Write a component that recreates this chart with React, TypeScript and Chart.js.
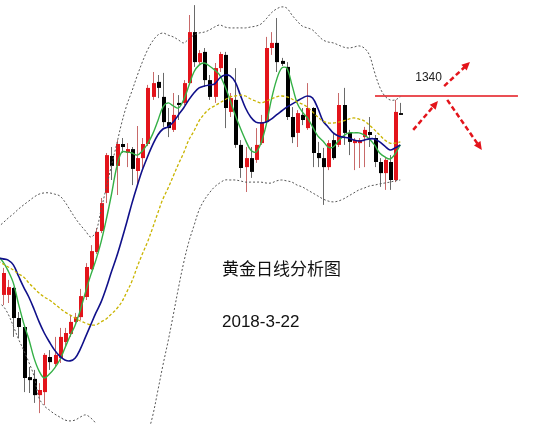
import { useEffect, useRef } from "react";
import { Chart, registerables } from "chart.js";

Chart.register(...registerables);

// Daily gold candles (index 1..78), prices in USD/oz
const opens = [
  1273.7, 1273.7, 1276.0, 1266.0, 1263.0, 1246.3, 1245.7, 1240.3, 1241.3, 1253.0,
  1250.7, 1252.7, 1258.0, 1260.7, 1264.7, 1266.3, 1273.0, 1282.3, 1288.0, 1295.0,
  1307.7, 1320.0, 1316.7, 1324.0, 1321.0, 1322.3, 1315.0, 1319.3, 1324.0, 1339.7,
  1344.7, 1339.7, 1331.3, 1328.7, 1337.7, 1337.7, 1344.3, 1361.3, 1351.3, 1354.7,
  1345.3, 1339.7, 1349.3, 1353.7, 1334.7, 1338.7, 1323.7, 1316.3, 1319.3, 1318.7,
  1324.3, 1331.3, 1356.0, 1357.7, 1351.7, 1349.7, 1333.0, 1327.7, 1333.7, 1329.3,
  1336.0, 1321.0, 1319.3, 1316.3, 1325.3, 1323.7, 1337.0, 1327.7, 1324.3, 1324.3,
  1326.3, 1328.0, 1326.0, 1318.0, 1314.3, 1318.0, 1312.0, 1334.3,
];
const highs = [
  1282.7, 1278.7, 1276.3, 1268.0, 1263.7, 1249.7, 1248.7, 1244.3, 1254.3, 1255.3,
  1259.7, 1262.7, 1262.7, 1267.0, 1267.7, 1275.7, 1284.3, 1290.3, 1296.0, 1306.0,
  1321.0, 1323.0, 1325.3, 1326.0, 1324.3, 1323.0, 1330.0, 1326.0, 1343.7, 1348.0,
  1347.0, 1347.7, 1336.0, 1341.0, 1340.3, 1345.3, 1367.0, 1370.3, 1355.3, 1356.0,
  1347.0, 1351.0, 1354.7, 1354.7, 1341.0, 1349.3, 1325.3, 1323.0, 1323.0, 1329.3,
  1333.7, 1359.7, 1361.3, 1366.0, 1352.7, 1351.3, 1336.3, 1335.3, 1336.0, 1344.3,
  1336.3, 1324.7, 1322.7, 1325.3, 1327.7, 1341.0, 1342.7, 1328.7, 1326.0, 1326.0,
  1329.7, 1333.0, 1327.0, 1319.3, 1319.7, 1320.3, 1338.7, 1337.7,
];
const lows = [
  1270.3, 1271.0, 1259.7, 1259.3, 1241.3, 1241.0, 1237.7, 1234.3, 1237.0, 1248.7,
  1249.7, 1251.0, 1256.3, 1259.7, 1263.7, 1265.3, 1272.0, 1282.0, 1287.3, 1294.3,
  1304.3, 1312.0, 1307.0, 1321.0, 1316.3, 1310.3, 1310.3, 1316.0, 1323.3, 1338.7,
  1339.3, 1329.7, 1326.3, 1328.0, 1332.0, 1337.0, 1343.7, 1349.7, 1350.3, 1343.0,
  1338.7, 1337.7, 1348.0, 1329.3, 1333.0, 1322.7, 1312.7, 1308.0, 1312.7, 1317.7,
  1323.7, 1331.0, 1353.7, 1348.0, 1350.0, 1332.0, 1324.3, 1323.0, 1330.3, 1328.7,
  1316.3, 1316.3, 1303.7, 1315.3, 1318.7, 1323.0, 1323.7, 1320.3, 1315.3, 1316.0,
  1316.3, 1323.0, 1316.3, 1309.7, 1308.7, 1308.7, 1311.3, 1333.7,
];
const closes = [
  1281.0, 1276.3, 1266.0, 1263.0, 1246.0, 1245.3, 1240.3, 1242.0, 1253.7, 1251.3,
  1253.7, 1259.7, 1261.0, 1264.7, 1266.3, 1273.3, 1283.0, 1288.3, 1294.7, 1304.3,
  1320.3, 1316.7, 1324.0, 1323.0, 1322.3, 1315.7, 1319.3, 1324.0, 1342.7, 1344.3,
  1342.7, 1331.3, 1329.3, 1333.7, 1337.0, 1344.3, 1361.3, 1351.3, 1354.3, 1345.3,
  1339.7, 1349.3, 1354.0, 1336.0, 1339.3, 1323.7, 1316.0, 1319.3, 1314.7, 1323.7,
  1331.3, 1356.0, 1357.7, 1351.3, 1350.7, 1333.0, 1326.3, 1334.3, 1332.0, 1336.0,
  1321.0, 1319.3, 1316.3, 1324.3, 1319.3, 1337.0, 1327.7, 1324.7, 1325.3, 1325.3,
  1328.7, 1327.0, 1318.0, 1314.3, 1318.7, 1312.0, 1334.7, 1333.7,
];

// Indicator lines (index 0..78)
const ma5 = [
  1286.7, 1284.7, 1281.7, 1277.7, 1270.7, 1264.3, 1259.0, 1252.7, 1248.3, 1246.0,
  1247.3, 1249.3, 1252.0, 1256.0, 1260.0, 1263.7, 1268.7, 1274.7, 1280.3, 1285.3,
  1291.3, 1298.7, 1307.0, 1316.0, 1321.3, 1321.3, 1321.0, 1320.3, 1321.7, 1324.0,
  1327.3, 1331.7, 1336.3, 1337.7, 1336.7, 1336.0, 1338.7, 1343.3, 1348.0, 1350.3,
  1351.0, 1350.0, 1348.7, 1347.0, 1343.3, 1338.7, 1333.7, 1329.3, 1325.3, 1322.0,
  1321.3, 1324.3, 1330.3, 1338.7, 1345.3, 1349.3, 1349.3, 1343.7, 1337.7, 1334.7,
  1332.7, 1329.7, 1326.7, 1325.0, 1323.0, 1323.0, 1325.0, 1326.7, 1327.7, 1327.7,
  1327.7, 1327.0, 1325.7, 1323.7, 1321.0, 1319.7, 1319.0, 1320.7, 1323.7,
];
const ma10 = [
  1286.0, 1285.7, 1285.3, 1283.7, 1280.0, 1276.3, 1273.0, 1269.0, 1264.7, 1261.0,
  1258.0, 1255.3, 1253.3, 1252.0, 1251.7, 1252.7, 1255.7, 1259.7, 1263.7, 1267.7,
  1271.3, 1276.0, 1281.3, 1286.3, 1292.0, 1298.0, 1304.3, 1310.0, 1315.3, 1319.7,
  1323.7, 1327.0, 1329.0, 1329.7, 1331.3, 1333.7, 1336.0, 1338.7, 1341.0, 1342.7,
  1343.3, 1343.7, 1344.0, 1346.0, 1347.0, 1346.7, 1344.7, 1340.3, 1336.0, 1333.0,
  1331.3, 1331.0, 1331.3, 1332.3, 1333.7, 1335.0, 1336.3, 1337.3, 1338.3, 1339.3,
  1340.0, 1339.3, 1336.0, 1331.7, 1329.7, 1327.7, 1326.7, 1326.3, 1326.0, 1325.3,
  1325.0, 1325.3, 1325.7, 1325.7, 1324.7, 1323.3, 1322.0, 1322.7, 1323.7,
];
const ma20 = [
  1285.0, 1284.0, 1283.0, 1282.0, 1280.7, 1279.7, 1277.7, 1276.0, 1274.3, 1273.0,
  1272.0, 1270.7, 1269.3, 1268.0, 1267.0, 1266.0, 1265.0, 1264.3, 1263.7, 1263.7,
  1264.7, 1265.7, 1267.3, 1269.0, 1271.3, 1274.7, 1278.3, 1283.0, 1287.3, 1291.3,
  1296.0, 1301.0, 1305.7, 1309.3, 1313.3, 1317.3, 1321.0, 1325.3, 1328.3, 1331.7,
  1334.0, 1335.7, 1336.7, 1337.7, 1338.7, 1339.7, 1340.0, 1340.3, 1340.0, 1339.0,
  1338.3, 1337.7, 1338.3, 1339.0, 1339.7, 1340.0, 1339.7, 1339.0, 1338.0, 1337.3,
  1336.3, 1334.7, 1333.0, 1331.7, 1331.0, 1331.0, 1331.3, 1331.7, 1332.3, 1332.7,
  1332.3, 1331.7, 1330.3, 1328.7, 1327.0, 1325.3, 1324.3, 1324.3, 1324.7,
];
const bollUpper = [
  1296.3, 1297.7, 1299.3, 1300.7, 1302.3, 1303.7, 1305.0, 1306.3, 1307.3, 1307.7,
  1307.7, 1307.3, 1306.7, 1304.7, 1302.0, 1299.3, 1297.0, 1295.0, 1293.0, 1294.7,
  1302.0, 1309.3, 1316.7, 1323.7, 1331.0, 1337.0, 1341.7, 1346.7, 1351.3, 1355.3,
  1358.3, 1360.3, 1361.0, 1360.3, 1359.7, 1358.7, 1357.7, 1359.0, 1360.3, 1361.0,
  1361.3, 1362.0, 1363.0, 1363.7, 1363.0, 1362.7, 1362.7, 1362.7, 1362.7, 1363.0,
  1363.3, 1364.0, 1365.7, 1367.7, 1369.0, 1369.7, 1369.3, 1367.0, 1365.0, 1363.3,
  1362.7, 1362.0, 1360.3, 1358.7, 1358.0, 1357.7, 1357.0, 1356.3, 1356.0, 1356.3,
  1356.7, 1356.0, 1353.7, 1348.0, 1343.0, 1340.0, 1338.7, 1338.7, 1339.7,
];
const bollLower = [
  1271.0, 1270.0, 1267.3, 1263.3, 1259.0, 1255.3, 1251.3, 1246.7, 1239.3, 1236.7,
  1235.3, 1234.0, 1233.0, 1232.0, 1231.7, 1232.0, 1233.0, 1233.7, 1232.7, 1230.7,
  1225.3, 1220.3, 1215.3, 1212.0, 1210.3, 1212.0, 1215.3, 1218.7, 1222.7, 1227.3,
  1233.3, 1241.7, 1250.3, 1258.3, 1267.0, 1276.0, 1284.3, 1291.3, 1296.7, 1302.0,
  1305.3, 1307.7, 1309.7, 1311.0, 1312.0, 1312.0, 1312.0, 1311.7, 1311.3, 1311.3,
  1311.3, 1311.3, 1311.0, 1311.0, 1311.7, 1312.0, 1311.7, 1311.3, 1310.3, 1309.7,
  1308.7, 1307.7, 1306.7, 1305.7, 1305.0, 1304.7, 1305.0, 1305.7, 1306.7, 1307.7,
  1308.7, 1309.3, 1310.0, 1310.3, 1310.7, 1311.0, 1311.3, 1311.7, 1312.0,
];

// Key level and projected paths (index, price)
const LEVEL = 1340;
const levelSpan = [73.1, 100.8];
const labelAt = [80.9, 18];
const arrows = [
  [80.5, 1328.7, 85.3, 1338.3],
  [86.5, 1343.3, 91.5, 1351.3],
  [87.1, 1338.7, 93.8, 1322.0],
];

const TITLE = "黄金日线分析图";
const DATE = "2018-3-22";

const X_MIN = 0.4186;
const X_MAX = 108.95;
const Y_MIN = 1230.67;
const Y_MAX = 1372;

const UP = "#e3141b";
const DOWN = "#000000";
const UP_WICK = "#c86a6a";
const DOWN_WICK = "#6a6a6a";

const series = (arr: number[]) => arr.map((v, i) => ({ x: i, y: v }));

const candlePlugin = {
  id: "candles",
  beforeDatasetsDraw(chart: any) {
    const { ctx, scales } = chart;
    const xs = scales.x;
    const ys = scales.y;
    ctx.save();
    for (let k = 0; k < opens.length; k++) {
      const cx = Math.round(xs.getPixelForValue(k + 1));
      const up = closes[k] >= opens[k];
      const yo = ys.getPixelForValue(opens[k]);
      const yc = ys.getPixelForValue(closes[k]);
      const yh = ys.getPixelForValue(highs[k]);
      const yl = ys.getPixelForValue(lows[k]);
      ctx.strokeStyle = up ? UP_WICK : DOWN_WICK;
      ctx.lineWidth = 1;
      ctx.beginPath();
      ctx.moveTo(cx + 0.5, yh);
      ctx.lineTo(cx + 0.5, yl);
      ctx.stroke();
      ctx.fillStyle = up ? UP : DOWN;
      const top = Math.min(yo, yc);
      const h = Math.max(Math.abs(yo - yc), 1.5);
      ctx.fillRect(cx - 1, top, 4, h);
    }
    ctx.restore();
  },
};

const overlayPlugin = {
  id: "overlay",
  afterDatasetsDraw(chart: any) {
    const { ctx, scales } = chart;
    const xs = scales.x;
    const ys = scales.y;
    ctx.save();
    ctx.strokeStyle = UP;
    ctx.fillStyle = UP;
    for (const [a, pa, b, pb] of arrows) {
      const x1 = xs.getPixelForValue(a);
      const y1 = ys.getPixelForValue(pa);
      const x2 = xs.getPixelForValue(b);
      const y2 = ys.getPixelForValue(pb);
      const ang = Math.atan2(y2 - y1, x2 - x1);
      const head = 9;
      const sx = x2 - Math.cos(ang) * head * 0.8;
      const sy = y2 - Math.sin(ang) * head * 0.8;
      ctx.lineWidth = 2.5;
      ctx.setLineDash([5, 3]);
      ctx.beginPath();
      ctx.moveTo(x1, y1);
      ctx.lineTo(sx, sy);
      ctx.stroke();
      ctx.setLineDash([]);
      ctx.beginPath();
      ctx.moveTo(x2, y2);
      ctx.lineTo(x2 - head * Math.cos(ang - 0.45), y2 - head * Math.sin(ang - 0.45));
      ctx.lineTo(x2 - head * Math.cos(ang + 0.45), y2 - head * Math.sin(ang + 0.45));
      ctx.closePath();
      ctx.fill();
    }
    ctx.fillStyle = "#222";
    ctx.font = "12px 'Liberation Sans', Arial, sans-serif";
    ctx.textBaseline = "middle";
    ctx.textAlign = "left";
    ctx.fillText(String(LEVEL), xs.getPixelForValue(labelAt[0]), ys.getPixelForValue(LEVEL) - labelAt[1]);
    ctx.restore();
  },
};

export default function App() {
  const ref = useRef<HTMLCanvasElement | null>(null);

  useEffect(() => {
    if (!ref.current) return;
    const line = (data: number[], color: string, width: number, dash: number[] = []) => ({
      type: "line" as const,
      data: series(data),
      borderColor: color,
      borderWidth: width,
      borderDash: dash,
      pointRadius: 0,
      tension: 0.35,
      fill: false,
    });
    const chart = new Chart(ref.current, {
      type: "line",
      data: {
        datasets: [
          line(bollUpper, "#555555", 1, [2, 2]),
          line(bollLower, "#555555", 1, [2, 2]),
          line(ma20, "#c9b400", 1.3, [3, 2]),
          line(ma10, "#10108a", 1.6),
          line(ma5, "#34b046", 1.4),
          {
            type: "line" as const,
            data: levelSpan.map((x) => ({ x, y: LEVEL })),
            borderColor: UP,
            borderWidth: 1.6,
            pointRadius: 0,
          },
        ],
      },
      options: {
        responsive: false,
        maintainAspectRatio: false,
        animation: false,
        layout: { padding: 0 },
        parsing: false as any,
        scales: {
          x: { type: "linear", min: X_MIN, max: X_MAX, display: false },
          y: { type: "linear", min: Y_MIN, max: Y_MAX, display: false },
        },
        plugins: { legend: { display: false }, tooltip: { enabled: false } },
      },
      plugins: [candlePlugin, overlayPlugin],
    });
    return () => chart.destroy();
  }, []);

  return (
    <div style={{ position: "fixed", left: 0, top: 0, width: 560, height: 424, background: "#fff" }}>
      <canvas ref={ref} width={560} height={424} />
      <div
        style={{
          position: "absolute",
          left: 222,
          top: 258,
          fontFamily: "'Noto Sans CJK SC', sans-serif",
          fontSize: 17,
          lineHeight: "20px",
          color: "#111",
          whiteSpace: "nowrap",
        }}
      >
        {TITLE}
      </div>
      <div
        style={{
          position: "absolute",
          left: 222,
          top: 312,
          fontFamily: "'Liberation Sans', Arial, sans-serif",
          fontSize: 17,
          lineHeight: "20px",
          color: "#111",
          whiteSpace: "nowrap",
        }}
      >
        {DATE}
      </div>
    </div>
  );
}
